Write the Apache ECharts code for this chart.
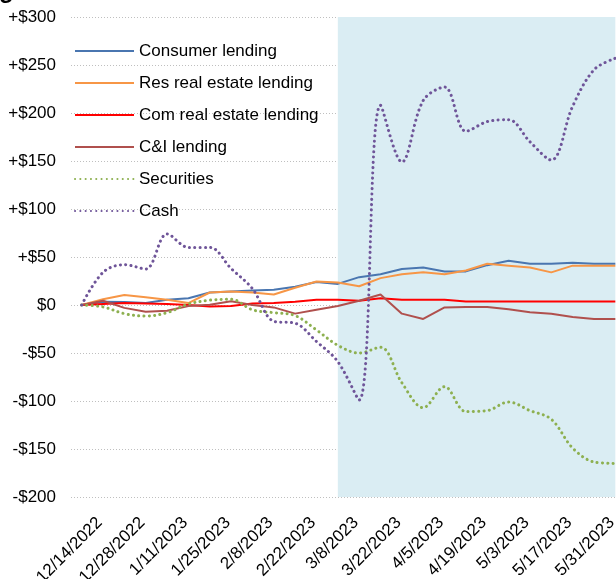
<!DOCTYPE html>
<html>
<head>
<meta charset="utf-8">
<script src="https://cdn.jsdelivr.net/npm/echarts@6/dist/echarts.min.js"></script>
<style>
html,body{margin:0;padding:0;background:#fff;}
#chart{width:616px;height:579px;}
</style>
</head>
<body>
<div id="chart"></div>
<script>
var dates = ['12/14/2022','12/21/2022','12/28/2022','1/4/2023','1/11/2023','1/18/2023','1/25/2023','2/1/2023','2/8/2023','2/15/2023','2/22/2023','3/1/2023','3/8/2023','3/15/2023','3/22/2023','3/29/2023','4/5/2023','4/12/2023','4/19/2023','4/26/2023','5/3/2023','5/10/2023','5/17/2023','5/24/2023','5/31/2023','6/7/2023'];
var consumerLending = [0,3.5,3,2,5.5,7,13,14,15,16,19,24,22,29,32,37.5,39,35,35,41.5,46,43,43,44,43,43];
var resRealEstate = [0,6,10.5,8,5.5,2,13,14,13,11,18,24.5,23.5,19.5,28,32,34,32,36,43,41,39,34,41,41,41];
var comRealEstate = [0,1,2,1.5,1,0,-1.5,-1,1.5,2,3.5,5.5,5.5,4.5,7,5.5,5.5,5.5,3.7,3.7,3.7,3.7,3.7,3.7,3.7,3.7];
var ciLending = [0,4.5,-3,-7,-6,-1,0.3,4,0,-2.5,-9,-5,-1,4.5,11,-9,-14.5,-2.5,-2,-2,-4.5,-7.5,-9,-12.5,-14.5,-14.5];
var securities = [0,-2,-9,-11.5,-8,1,5,6,-5,-8,-11,-26,-42,-50,-44,-81,-107,-85,-111,-110,-101,-110,-119,-149,-163.5,-165];
var cash = [0,34,42,37.5,74,60,60,38,17,-17,-19,-38,-59,-99,208,149,213,227,181,191,193,170,151,207,245,257];
var yTicks = [-200,-150,-100,-50,0,50,100,150,200,250,300];
var yTickLabels = ['-$200','-$150','-$100','-$50','$0','+$50','+$100','+$150','+$200','+$250','+$300'];
var shadeStart = '3/8/2023';
var shadeEnd = '6/7/2023';

var FONT = "'Liberation Sans',Arial,sans-serif";
var FS = 17;
var chart = echarts.init(document.getElementById('chart'), null, {renderer:'canvas'});

function solid(name, data, color){
  return {name:name, type:'line', data:data, symbol:'none', z:3,
    lineStyle:{color:color, width:2}, itemStyle:{color:color}};
}
function dotted(name, data, color){
  return {name:name, type:'line', data:data, symbol:'none', z:3, smooth:0.35,
    lineStyle:{color:color, width:3, type:[0.1,5.2], cap:'round'}, itemStyle:{color:color}};
}

var option = {
  backgroundColor:'#ffffff',
  animation:false,
  textStyle:{fontFamily:FONT},
  graphic:[{type:'text', left:-1, top:-21, style:{text:'g', font:'bold 24px '+FONT, fill:'#000'}}],
  grid:[
    {left:71, width:555, top:17, bottom:82, outerBoundsMode:'none', containLabel:false},
    {left:89, width:555, top:17, bottom:82, outerBoundsMode:'none', containLabel:false}
  ],
  legend:{
    orient:'vertical', left:74, top:41, padding:0, itemWidth:59, itemHeight:14, itemGap:12,
    itemStyle:{opacity:0},
    textStyle:{fontFamily:FONT, fontSize:FS, color:'#000', lineHeight:20},
    data:['Consumer lending','Res real estate lending','Com real estate lending','C&I lending','Securities','Cash']
  },
  xAxis:[
    {type:'category', gridIndex:0, data:dates, boundaryGap:true,
     axisLine:{show:false}, axisTick:{show:false}, axisLabel:{show:false}, splitLine:{show:false}},
    {type:'category', gridIndex:1, data:dates, boundaryGap:true,
     axisLine:{show:false}, axisTick:{show:false}, splitLine:{show:false},
     axisLabel:{interval:1, rotate:45, margin:23, hideOverlap:false, fontFamily:FONT, fontSize:FS, color:'#000'}}
  ],
  yAxis:[
    {type:'value', gridIndex:0, min:-200, max:300, interval:50,
     axisLine:{show:false}, axisTick:{show:false},
     splitLine:{show:true, lineStyle:{color:'#bfbfbf', width:1, type:[1,2]}},
     axisLabel:{margin:15, fontFamily:FONT, fontSize:FS, color:'#000',
       formatter:function(v){var i=yTicks.indexOf(v); return i>=0?yTickLabels[i]:'';}}},
    {type:'value', gridIndex:1, min:-200, max:300, show:false}
  ],
  series:[
    {name:'shade', type:'line', data:[], z:1, silent:true,
     markArea:{silent:true, itemStyle:{color:'#daedf3'}, data:[[{xAxis:shadeStart},{xAxis:shadeEnd}]]}},
    solid('Consumer lending', consumerLending, '#4a76b0'),
    solid('Res real estate lending', resRealEstate, '#f79646'),
    solid('Com real estate lending', comRealEstate, '#ff0000'),
    solid('C&I lending', ciLending, '#b0504d'),
    dotted('Securities', securities, '#8db050'),
    dotted('Cash', cash, '#6f5599')
  ]
};
chart.setOption(option);
</script>
</body>
</html>
